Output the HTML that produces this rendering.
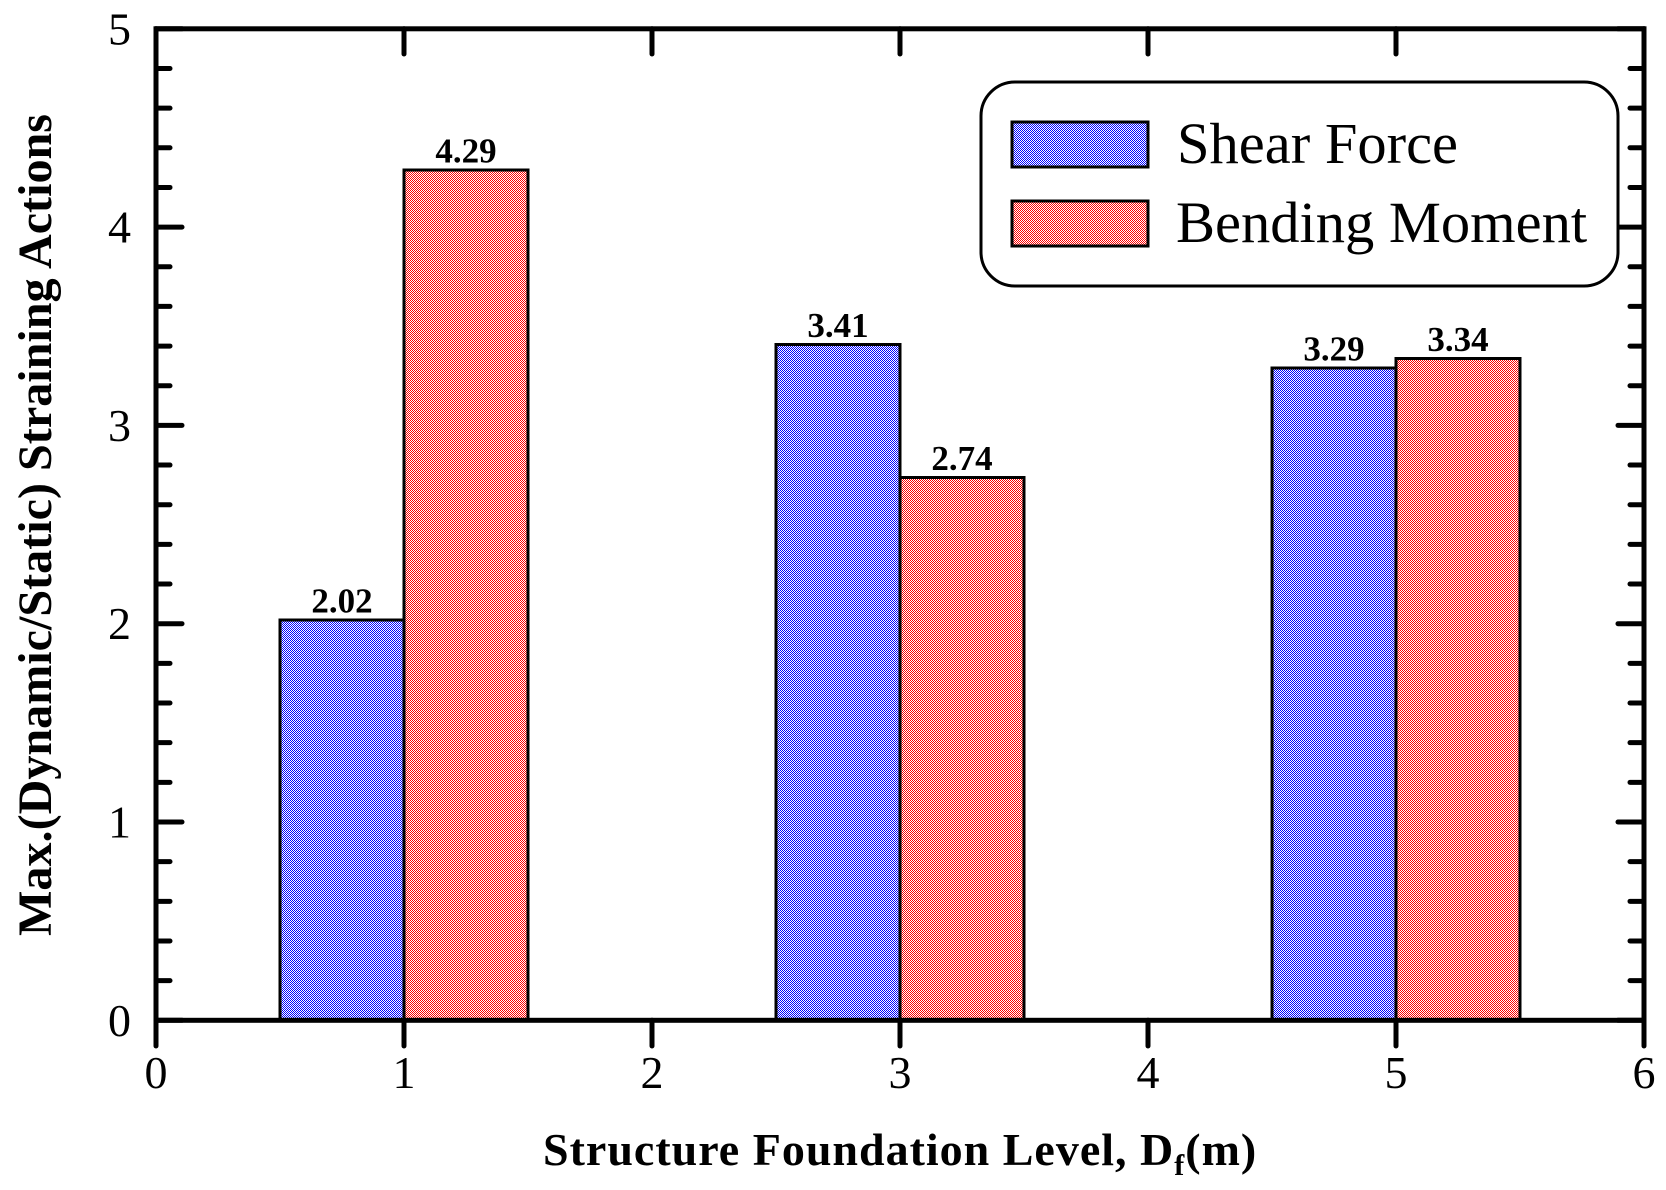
<!DOCTYPE html>
<html>
<head>
<meta charset="utf-8">
<title>Max dynamic/static straining actions chart</title>
<style>
html,body{margin:0;padding:0;background:#fff;}
svg{display:block;}
text{font-family:"Liberation Serif",serif;fill:#000;}
</style>
</head>
<body>
<svg id="chart" xmlns="http://www.w3.org/2000/svg" width="1666" height="1190" viewBox="0 0 1666 1190">
<defs>
<pattern id="pat-blue" width="2" height="2" patternUnits="userSpaceOnUse">
<rect width="2" height="2" fill="#fff"/><rect width="1" height="1" fill="#0000ff"/><rect x="1" y="1" width="1" height="1" fill="#0000ff"/>
</pattern>
<pattern id="pat-red" width="2" height="2" patternUnits="userSpaceOnUse">
<rect width="2" height="2" fill="#fff"/><rect width="1" height="1" fill="#ff0000"/><rect x="1" y="1" width="1" height="1" fill="#ff0000"/>
</pattern>
</defs>
<g id="bars"></g>
<g id="axes"></g>
<g id="labels"></g>
<text x="543" y="1165" font-size="46" font-weight="bold" style="letter-spacing:1px">Structure Foundation Level, D<tspan font-size="30" dy="10">f</tspan><tspan dy="-10">(m)</tspan></text>
<text transform="translate(51,936) rotate(-90)" x="0" y="0" font-size="48" font-weight="bold" textLength="822" lengthAdjust="spacingAndGlyphs">Max.(Dynamic/Static) Straining Actions</text>
<g>
<rect x="981" y="82" width="637" height="204" rx="34" ry="34" fill="#fff" stroke="#000" stroke-width="3"/>
<rect x="1012" y="122" width="136" height="45" fill="url(#pat-blue)" stroke="#000" stroke-width="3" shape-rendering="crispEdges"/>
<text x="1177" y="163" font-size="58.5">Shear Force</text>
<rect x="1012" y="201" width="136" height="45" fill="url(#pat-red)" stroke="#000" stroke-width="3" shape-rendering="crispEdges"/>
<text x="1176" y="242" font-size="58.5">Bending Moment</text>
</g>
</svg>
<script>
const categories = [1, 3, 5];
const shearForce = [2.02, 3.41, 3.29];
const bendingMoment = [4.29, 2.74, 3.34];
const xTickLabels = [0, 1, 2, 3, 4, 5, 6];
const yTickLabels = [0, 1, 2, 3, 4, 5];
const yMinorTicks = [0.2, 0.4, 0.6, 0.8, 1.2, 1.4, 1.6, 1.8, 2.2, 2.4, 2.6, 2.8, 3.2, 3.4, 3.6, 3.8, 4.2, 4.4, 4.6, 4.8];
const barWidthUnits = 0.5;

const NS = 'http://www.w3.org/2000/svg';
const xScale = v => 156 + 248 * v;
const yScale = v => 1020.3 - 198.3 * v;
const barsG = document.getElementById('bars');
const axesG = document.getElementById('axes');
const labelsG = document.getElementById('labels');

function make(tag, attrs, parent) {
  const el = document.createElementNS(NS, tag);
  for (const k in attrs) el.setAttribute(k, attrs[k]);
  parent.appendChild(el);
  return el;
}

function drawBar(cat, val, offset, pat, name) {
  const x0 = xScale(cat + offset);
  const x1 = xScale(cat + offset + barWidthUnits);
  const y0 = yScale(val) + 0.3;
  const bar = make('rect', {x: x0, y: y0, width: x1 - x0, height: yScale(0) - y0, fill: 'url(#' + pat + ')', stroke: '#000', 'stroke-width': 3, 'shape-rendering': 'crispEdges'}, barsG);
  
  
  const t = make('text', {x: (x0 + x1) / 2, y: y0 - 7.5, 'font-size': 35, 'font-weight': 'bold', 'text-anchor': 'middle'}, labelsG);
  t.textContent = val.toFixed(2);
  
  
}

categories.forEach((c, i) => {
  drawBar(c, shearForce[i], -barWidthUnits, 'pat-blue', 'shear-force');
  drawBar(c, bendingMoment[i], 0, 'pat-red', 'bending-moment');
});

function tick(x1, y1, x2, y2, name) {
  const l = make('line', {x1: x1, y1: y1, x2: x2, y2: y2, stroke: '#000', 'stroke-width': 5, 'stroke-linecap': 'round'}, axesG);
  
  
}

xTickLabels.forEach(v => {
  const x = xScale(v);
  tick(x, yScale(0), x, 1046, 'x-tick-bottom-' + v);
  tick(x, yScale(5), x, 54, 'x-tick-top-' + v);
  const t = make('text', {x: x, y: 1088, 'font-size': 46, 'text-anchor': 'middle'}, axesG);
  t.textContent = v;
  
  
});

yTickLabels.forEach(v => {
  const y = yScale(v);
  tick(xScale(0), y, 182, y, 'y-tick-left-' + v);
  tick(xScale(6), y, 1618, y, 'y-tick-right-' + v);
  const t = make('text', {x: 131, y: y + 15.5, 'font-size': 46, 'text-anchor': 'end'}, axesG);
  t.textContent = v;
  
  
});

yMinorTicks.forEach(v => {
  const y = yScale(v);
  tick(xScale(0), y, 170, y, 'y-minor-tick-left-' + v);
  tick(xScale(6), y, 1630, y, 'y-minor-tick-right-' + v);
});

const frame = make('rect', {x: xScale(0), y: yScale(5), width: xScale(6) - xScale(0), height: yScale(0) - yScale(5), fill: 'none', stroke: '#000', 'stroke-width': 5}, axesG);


</script>
</body>
</html>
